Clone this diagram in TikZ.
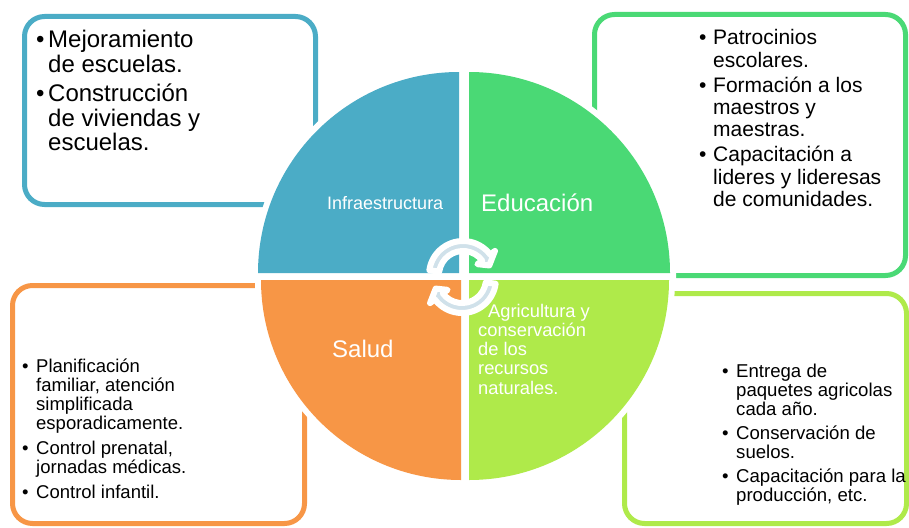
\documentclass[tikz,border=0pt]{standalone}
\usepackage{fontspec}
\setmainfont{Liberation Sans}
\usetikzlibrary{calc}
\definecolor{cblue}{RGB}{75,172,198}
\definecolor{cgreen}{RGB}{74,217,117}
\definecolor{corange}{RGB}{247,150,70}
\definecolor{clime}{RGB}{175,234,74}
\definecolor{carrow}{RGB}{208,225,234}
\newcommand{\bitm}[2]{\hangindent=#1\hangafter=1\noindent\makebox[#1][l]{•}#2\par}
\newcommand{\natsp}{\spaceskip=0pt\xspaceskip=0pt\relax}
\begin{document}
\begin{tikzpicture}[x=1pt,y=-1pt,
  box/.style={line width=5pt, rounded corners=20pt},
  sectw/.style={draw=white, fill=white, line width=12pt},
  lst/.style={anchor=base west, inner sep=0pt, align=left, text width=#1},
  lbl/.style={anchor=base west, inner sep=0pt, text=white},
  cyc/.style={fill=carrow, draw=white, line width=6pt, line join=round}
]
\useasboundingbox (0,0) rectangle (909,527);
% boxes
\draw[box, cblue] (24.5,16.5) rectangle (315.5,204.5);
\draw[box, cgreen] (594.5,14.5) rectangle (905.5,275.5);
\draw[box, corange] (12.5,285.5) rectangle (304.5,523.5);
\draw[box, clime] (624.5,293.5) rectangle (906.5,523.5);
% white halo behind sectors
\path[sectw] (459,273) -- ++(180:201) arc[start angle=180,end angle=270,radius=201] -- cycle;
\path[sectw] (469,273) -- ++(270:201) arc[start angle=270,end angle=360,radius=201] -- cycle;
\path[sectw] (461,280) -- ++(90:200) arc[start angle=90,end angle=180,radius=200] -- cycle;
\path[sectw] (469,280) -- ++(0:200) arc[start angle=0,end angle=90,radius=200] -- cycle;
% sectors
\fill[cblue] (459,273) -- ++(180:201) arc[start angle=180,end angle=270,radius=201] -- cycle;
\fill[cgreen] (469,273) -- ++(270:201) arc[start angle=270,end angle=360,radius=201] -- cycle;
\fill[corange] (461,280) -- ++(90:200) arc[start angle=90,end angle=180,radius=200] -- cycle;
\fill[clime] (469,280) -- ++(0:200) arc[start angle=0,end angle=90,radius=200] -- cycle;
% box texts
\node[lst=280pt] (tl) at (36,48) {\fontsize{24}{24.5}\selectfont\natsp\setlength{\parskip}{4.5pt}%
\bitm{12pt}{Mejoramiento\newline de escuelas.}\bitm{12pt}{Construcción\newline de viviendas y\newline escuelas.}};
\node[lst=200pt] (tr) at (699,45) {\fontsize{21}{22.3}\selectfont\natsp\setlength{\parskip}{2.7pt}%
\bitm{14pt}{Patrocinios\newline escolares.}\bitm{14pt}{Formación a los\newline maestros y\newline maestras.}\bitm{14pt}{Capacitación a\newline lideres y lideresas\newline de comunidades.}};
\node[lst=260pt] (bl) at (22,372) {\fontsize{18.5}{19}\selectfont\natsp\setlength{\parskip}{6pt}%
\bitm{14pt}{Planificación\newline familiar, atención\newline simplificada\newline esporadicamente.}\bitm{14pt}{Control prenatal,\newline jornadas médicas.}\bitm{14pt}{Control infantil.}};
\node[lst=200pt] (br) at (722,377) {\fontsize{18.6}{19}\selectfont\natsp\setlength{\parskip}{5pt}%
\bitm{14pt}{Entrega de\newline paquetes agricolas\newline cada año.}\bitm{14pt}{Conservación de\newline suelos.}\bitm{14pt}{Capacitación para la\newline producción, etc.}};
% circle labels
\node[lbl, font=\fontsize{18}{18}\selectfont] (infra) at (327,209) {Infraestructura};
\node[lbl, font=\fontsize{24}{24}\selectfont] (edu) at (481,211) {Educación};
\node[lbl, font=\fontsize{24}{24}\selectfont] (sal) at (332,357) {Salud};
\node[lbl, align=left, text width=150pt, font=\fontsize{18.3}{19.3}\selectfont] (agr) at (478,317) {\natsp\hspace*{10pt}Agricultura y\newline conservación\newline de los\newline recursos\newline naturales.};
% cycle arrows
\coordinate (ct) at (463,275);
\coordinate (cb) at (462,279);
\path[cyc] ($(ct)+(-172:34)$) arc[start angle=-172,end angle=-37,radius=34] -- ($(ct)+(-37:40)$) -- ($(ct)+(-20:28)$) -- ($(ct)+(-37:18)$) -- ($(ct)+(-37:24)$) arc[start angle=-37,end angle=-172,radius=24] -- cycle;
\path[cyc] ($(cb)+(8:34)$) arc[start angle=8,end angle=143,radius=34] -- ($(cb)+(143:40)$) -- ($(cb)+(160:28)$) -- ($(cb)+(143:18)$) -- ($(cb)+(143:24)$) arc[start angle=143,end angle=8,radius=24] -- cycle;
\end{tikzpicture}
\end{document}
